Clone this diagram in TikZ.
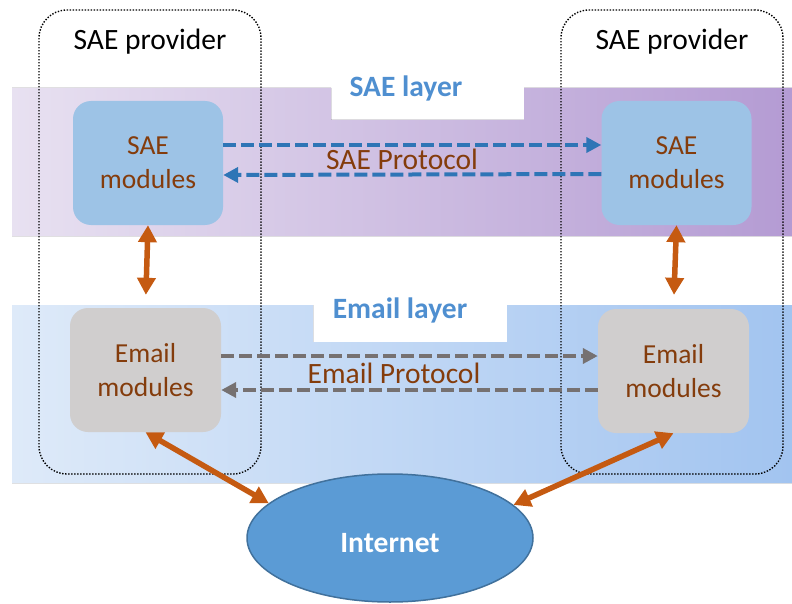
\documentclass[tikz,border=0pt]{standalone}
\usepackage{fontspec}
\setmainfont{Carlito}
\usepackage{xcolor}
\usepackage{tikz}
\usetikzlibrary{positioning, arrows.meta, shapes.geometric}

\definecolor{saefill}{HTML}{9DC3E6}
\definecolor{mailfill}{HTML}{D0CECE}
\definecolor{modtext}{HTML}{843C0C}
\definecolor{linkorange}{HTML}{C55A11}
\definecolor{saedash}{HTML}{2E75B6}
\definecolor{maildash}{HTML}{767171}
\definecolor{netfill}{HTML}{5B9BD5}
\definecolor{netdraw}{HTML}{41719C}
\definecolor{layertext}{HTML}{4F8FD0}

\begin{document}
\begin{tikzpicture}[
    x=1pt, y=-1pt,
    saelayer/.style={left color={rgb,255:red,232;green,225;blue,241}, right color={rgb,255:red,180;green,155;blue,211}},
    maillayer/.style={left color={rgb,255:red,222;green,234;blue,249}, right color={rgb,255:red,162;green,196;blue,240}},
    provider/.style={rectangle, rounded corners=28pt, draw=black, line width=1.4pt, dash pattern=on 1.4pt off 1.6pt, minimum width=222pt, minimum height=464pt},
    title/.style={anchor=base, font=\fontsize{29.5}{34}\selectfont},
    layerlabel/.style={anchor=base, text=layertext, font=\fontsize{29.5}{34}\selectfont\bfseries},
    saemod/.style={rectangle, rounded corners=18pt, fill=saefill, minimum width=150pt, minimum height=124pt, align=center, text=modtext, font=\fontsize{27.5}{34}\selectfont},
    mailmod/.style={rectangle, rounded corners=18pt, fill=mailfill, minimum width=151pt, minimum height=124pt, align=center, text=modtext, font=\fontsize{27.5}{34}\selectfont},
    protolabel/.style={anchor=base, text=modtext, font=\fontsize{29.5}{34}\selectfont},
    cloud/.style={ellipse, fill=netfill, draw=netdraw, line width=1.5pt, minimum width=286pt, minimum height=128pt, inner sep=0pt},
    link/.style={{Triangle[length=17pt,width=18pt]}-{Triangle[length=17pt,width=18pt]}, line width=5.5pt, draw=linkorange},
    saeflow/.style={-{Triangle[length=15pt,width=15pt]}, line width=4pt, draw=saedash, dash pattern=on 13pt off 5pt},
    mailflow/.style={-{Triangle[length=15pt,width=15pt]}, line width=4pt, draw=maildash, dash pattern=on 13pt off 5pt}
]
\useasboundingbox (0,0) rectangle (792,604);

\fill[saelayer] (12,88) -- (331,88) -- (331,120) -- (524,120) -- (524,88) -- (792,88) -- (792,236) -- (12,236) -- cycle;
\fill[maillayer] (12,305) -- (313,305) -- (313,342) -- (507,342) -- (507,305) -- (792,305) -- (792,483) -- (12,483) -- cycle;

\node[layerlabel] (saelabel) at (406,97) {SAE layer};
\node[layerlabel] (maillabel) at (400,318) {Email layer};

\node[provider] (provL) at (150,242) {};
\node[provider] (provR) at (672,242) {};
\node[title] (provLtitle) at (150,50) {SAE provider};
\node[title] (provRtitle) at (672,50) {SAE provider};

\node[saemod] (saeL) at (148,163) {SAE\\modules};
\node[saemod] (saeR) at (676.5,163) {SAE\\modules};
\node[mailmod] (mailL) at (145.5,370) {Email\\modules};
\node[mailmod] (mailR) at (673.5,371) {Email\\modules};

\node[cloud] (internet) at (390,538) {};
\node[anchor=base, text=white, font=\fontsize{29.5}{34}\selectfont\bfseries] (internettext) at (390,552) {Internet};

\draw[saeflow] ([yshift=18pt]saeL.east) -- ([yshift=18pt]saeR.west);
\draw[saeflow] ([yshift=-11pt]saeR.west) -- ([yshift=-12pt]saeL.east);
\node[protolabel] (saeproto) at (402,170) {SAE Protocol};

\draw[mailflow] ([yshift=14pt]mailL.east) -- ([yshift=15pt]mailR.west);
\draw[mailflow] ([yshift=-19pt]mailR.west) -- ([yshift=-20pt]mailL.east);
\node[protolabel] (mailproto) at (394,383) {Email Protocol};

\draw[link, shorten >=13pt] (saeL.south) -- (mailL.north);
\draw[link, shorten >=14pt] (saeR.south) -- (mailR.north);
\draw[link] (mailL.south) -- (internet.164);
\draw[link] (mailR.south) -- (internet.15);
\end{tikzpicture}
\end{document}
